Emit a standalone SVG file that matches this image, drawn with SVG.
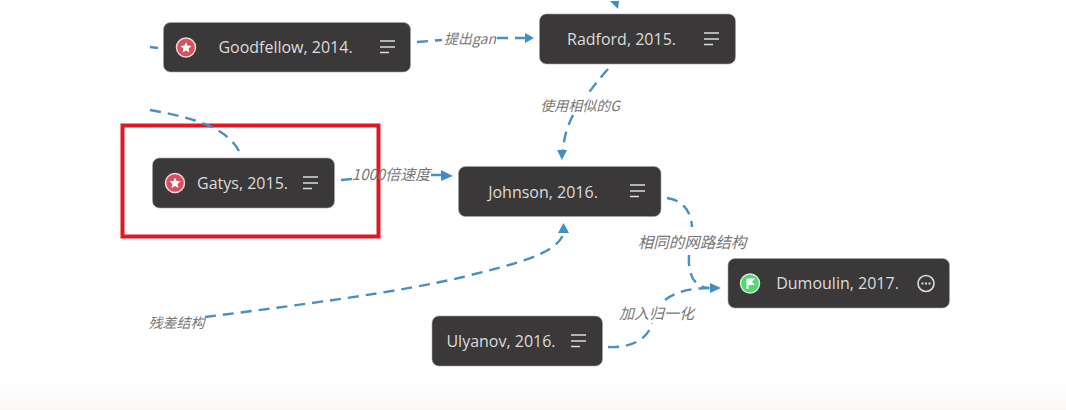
<svg xmlns="http://www.w3.org/2000/svg" width="1066" height="410" viewBox="0 0 1066 410">
<style>
.box{fill:#3a3839;stroke:#a5a5a5;stroke-width:.6}
.t{font:16px "Open Sans","Noto Sans",sans-serif;fill:#dcdcdc;text-anchor:middle}
.l{font-family:"Noto Sans CJK SC","Open Sans",sans-serif;font-style:italic;font-size:14px;fill:#777;text-anchor:middle}
.c{fill:none;stroke:#4a90bf;stroke-width:2.4;stroke-dasharray:11 7}
.a{fill:#3f8fc4}
.m{stroke:#dcdcdc;stroke-width:1.6;fill:none}
</style>
<defs>
<linearGradient id="fade" x1="0" y1="0" x2="0" y2="1"><stop offset="0" stop-color="#fff"/><stop offset="1" stop-color="#faf8f6"/></linearGradient>
<g id="menu"><path class="m" d="M0 -6H15M0 0H15M0 5.500H9"/></g>
<g id="star"><circle r="9.500" fill="#d8505f" stroke="#f0d5d8" stroke-width="1.500"/><path fill="#fff" d="M0-5.500 1.600-1.900 5.500-1.500 2.600 1.100 3.400 5 0 3 -3.400 5 -2.600 1.100 -5.500-1.500 -1.600-1.900Z"/></g>
</defs>
<rect width="1066" height="410" fill="#fff"/>
<rect y="378" width="1066" height="32" fill="url(#fade)"/>
<rect x="122.500" y="125.500" width="256" height="111" fill="none" stroke="#dd1a22" stroke-width="4"/>
<g id="connectors">
<path class="c" d="M150 47L158 48"/>
<path class="c" d="M150 110C195 118 228 128 240 153"/>
<path class="c" d="M417 42L442 40M497 38L525 38"/>
<path class="c" d="M608 69C600 78 593 87 587 95M573 115C568 125 564 136 563 150"/>
<path class="c" d="M341 180L352 179M431 175L441 175"/>
<path class="c" d="M667 198C682 200 691 210 692 227M689 255C688 272 692 286 708 288"/>
<path class="c" d="M205 317C300 305 400 292 463 277C510 265 555 255 563 235"/>
<path class="c" d="M608 347C630 348 648 340 652 323M665 300C675 292 690 288 710 288"/>
<path class="a" d="M525 33 534 38 525 43Z"/>
<path class="a" d="M557 150H567L562 160Z"/>
<path class="a" d="M441 170 453 176 441 181Z"/>
<path class="a" d="M710 283 721 288 710 293Z"/>
<path class="a" d="M558 233 563.500 223 569 233Z"/>
<path class="a" d="M610 1H619L618 9Z"/>
</g>
<g id="goodfellow"><rect class="box" x="163.500" y="22.500" width="247" height="49.500" rx="7"/><use href="#star" x="186" y="47.500"/><text class="t" x="285.500" y="53">Goodfellow, 2014.</text><use href="#menu" x="380" y="47"/></g>
<g id="radford"><rect class="box" x="539.500" y="14" width="196" height="50" rx="7"/><text class="t" x="621.500" y="45">Radford, 2015.</text><use href="#menu" x="704" y="39"/></g>
<g id="gatys"><rect class="box" x="152.500" y="158" width="182" height="50" rx="7"/><use href="#star" x="175" y="183"/><text class="t" x="242.500" y="188.500">Gatys, 2015.</text><use href="#menu" x="303" y="183"/></g>
<g id="johnson"><rect class="box" x="458.500" y="166.500" width="202.500" height="50" rx="7"/><text class="t" x="543" y="197.500">Johnson, 2016.</text><use href="#menu" x="630" y="191"/></g>
<g id="ulyanov"><rect class="box" x="432" y="316" width="170.500" height="50" rx="7"/><text class="t" x="501" y="346.500">Ulyanov, 2016.</text><use href="#menu" x="571" y="341"/></g>
<g id="dumoulin"><rect class="box" x="728" y="258.500" width="221.500" height="49.500" rx="7"/><circle cx="750" cy="283.500" r="9.500" fill="#55d676" stroke="#cdeed6" stroke-width="1.500"/><path fill="#fff" d="M746.500 278.500H755L752 282 755 285H748.500V289H746.500Z"/><text class="t" x="837.500" y="289">Dumoulin, 2017.</text><circle cx="926" cy="283.500" r="8" fill="none" stroke="#dcdcdc" stroke-width="1.600"/><path d="M921.500 283.500H930.500" stroke="#dcdcdc" stroke-width="2" stroke-dasharray="2 1.500"/></g>
<g id="labels">
<text class="l" x="470" y="44">提出gan</text>
<text class="l" x="580" y="111">使用相似的G</text>
<text class="l" x="391" y="180" style="font-size:15px">1000倍速度</text>
<text class="l" x="692" y="248" style="font-size:15.500px">相同的网路结构</text>
<text class="l" x="656.500" y="319" style="font-size:15px">加入归一化</text>
<text class="l" x="176.500" y="328">残差结构</text>
</g>
</svg>
